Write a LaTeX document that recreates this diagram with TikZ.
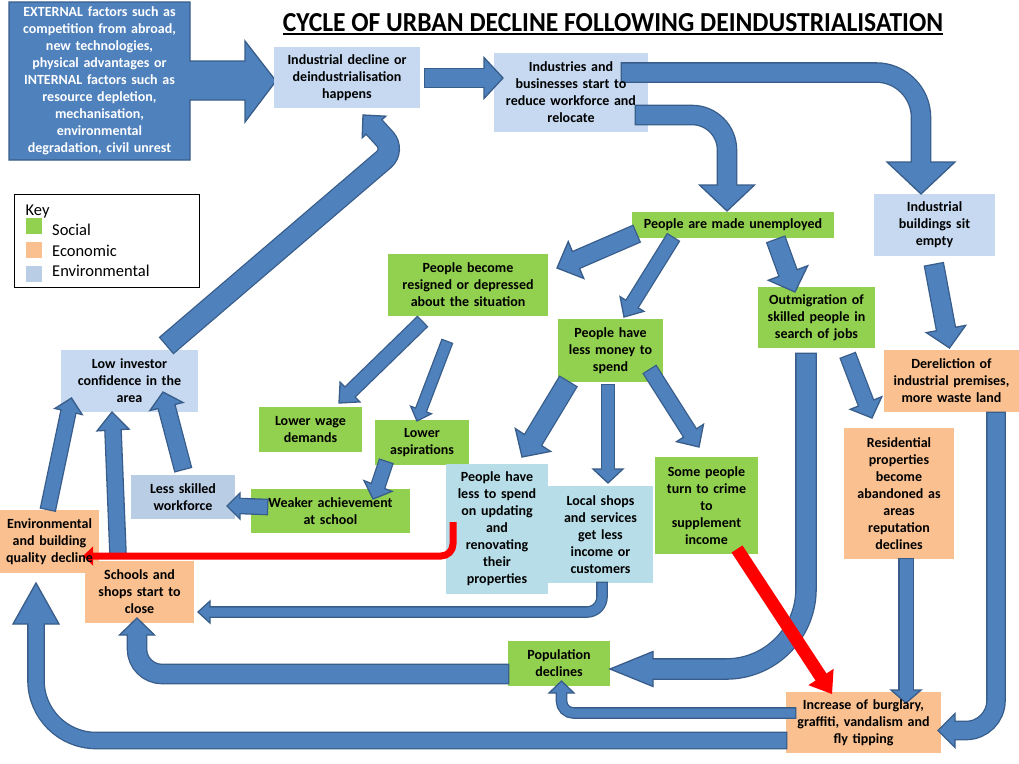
\documentclass[tikz,border=0pt]{standalone}
\usepackage{fontspec}
\setmainfont{Carlito}
\usepackage{graphicx}
\usetikzlibrary{calc}
\definecolor{arrowblue}{HTML}{4F81BD}
\definecolor{arrowline}{HTML}{385D8A}
\definecolor{socialgreen}{HTML}{92D050}
\definecolor{econorange}{HTML}{FAC090}
\definecolor{envblue}{HTML}{C6D9F1}
\definecolor{keyenv}{HTML}{B9CDE5}
\definecolor{aquablue}{HTML}{B7DEE8}
\pgfdeclarelayer{boxes}
\pgfdeclarelayer{arrows}
\pgfsetlayers{boxes,arrows,main}

% shaft width, head half width, shaft path, head base, tip
\newcommand{\blockarrow}[5]{%
  \draw[arrowline, line width=#1pt+2.6pt, shorten <=-1.3pt] #3;
  \filldraw[fill=arrowblue, draw=arrowline, line width=1.3pt] ($#4!#2pt!90:#5$) -- #5 -- ($#4!#2pt!-90:#5$) -- cycle;
  \draw[arrowblue, line width=#1pt, shorten >=-1.6pt] #3;
}
\newcommand{\redarrow}[5]{%
  \draw[red, line width=#1pt, shorten >=-1pt] #3;
  \fill[red] ($#4!#2pt!90:#5$) -- #5 -- ($#4!#2pt!-90:#5$) -- cycle;
}

\begin{document}
\begin{tikzpicture}[x=1pt, y=-1pt,
  box/.style={align=center, inner sep=0pt, font=\fontsize{14}{17}\selectfont\bfseries},
  wh/.style 2 args={minimum width=#1pt, minimum height=#2pt, text width=#1pt},
  keytext/.style={anchor=base west, inner sep=0pt, font=\fontsize{16.5}{20}\selectfont},
  swatch/.style={minimum size=16pt, inner sep=0pt}]
\useasboundingbox (0,0) rectangle (1019,763);

\node[inner sep=0pt, anchor=base] (title) at (613,31) {\resizebox{660pt}{18pt}{\bfseries CYCLE OF URBAN DECLINE FOLLOWING DEINDUSTRIALISATION}};
\draw[line width=2pt] ([yshift=-3.3pt]title.base west) -- ([yshift=-3.3pt]title.base east);

\node[box, wh={181}{158}, text=white] (ext) at (99.5,81) {EXTERNAL factors such as\\ competition from abroad,\\ new technologies,\\ physical advantages or\\ INTERNAL factors such as\\ resource depletion,\\ mechanisation,\\ environmental\\ degradation, civil unrest};
\node[box, wh={146}{61}] (decline) at (347,77.5) {Industrial decline or\\ deindustrialisation\\ happens};
\node[box, wh={154}{79}] (industries) at (571,92.5) {Industries and\\ businesses start to\\ reduce workforce and\\ relocate};
\node[box, wh={202}{26}] (unemp) at (733,225) {People are made unemployed};
\node[box, wh={121}{62}] (sitempty) at (934.5,225) {Industrial\\ buildings sit\\ empty};
\node[box, wh={160}{62}] (resigned) at (468,285) {People become\\ resigned or depressed\\ about the situation};
\node[box, wh={105}{63}] (money) at (610.5,350.5) {People have\\ less money to\\ spend};
\node[box, wh={117}{61}] (outmig) at (816.5,317.5) {Outmigration of\\ skilled people in\\ search of jobs};
\node[box, wh={135}{62}] (derel) at (951.5,381) {Dereliction of\\ industrial premises,\\ more waste land};
\node[box, wh={137}{62}] (lowinv) at (129.5,381) {Low investor\\ confidence in the\\ area};
\node[box, wh={103}{45}] (wage) at (310.5,429.5) {Lower wage\\ demands};
\node[box, wh={94}{45}] (aspir) at (422,442.5) {Lower\\ aspirations};
\node[box, wh={159}{44}] (weaker) at (330.5,511) {Weaker achievement\\ at school};
\node[box, wh={104}{44}] (lessskill) at (183,497) {Less skilled\\ workforce};
\node[box, wh={99}{63}] (envdecl) at (49.5,541.5) {Environmental\\ and building\\ quality decline};
\node[box, wh={109}{62}] (schools) at (139.5,592) {Schools and\\ shops start to\\ close};
\node[box, wh={105}{97}] (localshops) at (600.5,534.5) {Local shops\\ and services\\ get less\\ income or\\ customers};
\node[box, wh={102}{130}] (update) at (497,529) {People have\\ less to spend\\ on updating\\ and\\ renovating\\ their\\ properties};
\node[box, wh={103}{97}] (crime) at (706.5,505.5) {Some people\\ turn to crime\\ to\\ supplement\\ income};
\node[box, wh={110}{131}] (residential) at (899,493.5) {Residential\\ properties\\ become\\ abandoned as\\ areas\\ reputation\\ declines};
\node[box, wh={102}{45}] (pop) at (559,663.5) {Population\\ declines};
\node[box, wh={155}{61}] (burglary) at (863.5,722.5) {Increase of burglary,\\ graffiti, vandalism and\\ fly tipping};

\node[draw=black, line width=0.9pt, minimum width=185pt, minimum height=93pt, inner sep=0pt] (key) at (106.5,240.5) {};
\node[keytext] (keyhead) at (25.5,215) {Key};
\node[swatch, fill=socialgreen] (swsocial) at (34,226) {};
\node[swatch, fill=econorange] (swecon) at (34,250) {};
\node[swatch, fill=keyenv] (swenv) at (34,274) {};
\node[keytext] (keysocial) at (52,235) {Social};
\node[keytext] (keyecon) at (52,256) {Economic};
\node[keytext] (keyenv) at (52,276.5) {Environmental};

\begin{pgfonlayer}{boxes}
\fill[white] (0,0) rectangle (1019,763);
\filldraw[fill=arrowblue, draw=arrowline, line width=1.3pt] (9,2) -- (190,2) -- (190,61) -- (245,61) -- (245,41) -- (276,81) -- (245,122) -- (245,100) -- (190,100) -- (190,160) -- (9,160) -- cycle;
\foreach \n/\c in {decline/envblue, industries/envblue, sitempty/envblue, lowinv/envblue, lessskill/keyenv,
  unemp/socialgreen, resigned/socialgreen, money/socialgreen, outmig/socialgreen, wage/socialgreen,
  aspir/socialgreen, weaker/socialgreen, crime/socialgreen, pop/socialgreen,
  derel/econorange, residential/econorange, envdecl/econorange, schools/econorange, burglary/econorange,
  localshops/aquablue, update/aquablue}
  \fill[\c] (\n.south west) rectangle (\n.north east);
\end{pgfonlayer}

\begin{pgfonlayer}{arrows}
\blockarrow{18}{20.5}{(425,78) -- (484,78)}{(484,78)}{(503,78)}
\blockarrow{18}{34}{(622,72.5) [rounded corners=45pt] -- (921,72.5) -- (921,162)}{(921,162)}{(921,194)}
\blockarrow{18}{27.5}{(636,115) [rounded corners=35pt] -- (727,115) -- (727,185)}{(727,185)}{(727,211)}
\blockarrow{17}{20}{(636,234) -- (576,260)}{(576,260)}{(557,268)}
\blockarrow{13}{14}{(673,238) -- (632,304)}{(632,304)}{(624,317)}
\blockarrow{18}{21}{(776,240) -- (788,273)}{(788,273)}{(795,292)}
\blockarrow{18}{20}{(934,265) -- (946,329)}{(946,329)}{(949.5,348)}
\blockarrow{15}{17}{(848,356) -- (866,403)}{(866,403)}{(872,418)}
\blockarrow{19}{17.5}{(806,354) [rounded corners=80pt] -- (806,669) -- (653,669)}{(653,669)}{(610,669)}
\blockarrow{17}{17}{(996,413) [rounded corners=30pt] -- (996,730.5) -- (955,730.5)}{(955,730.5)}{(938,730.5)}
\blockarrow{13}{15}{(906,559) -- (906,690)}{(906,690)}{(906,703)}
\blockarrow{9}{12.5}{(795,713) [rounded corners=12pt] -- (561.5,713) -- (561.5,693)}{(561.5,693)}{(561.5,681)}
\blockarrow{15}{23}{(786,740.5) [rounded corners=60pt] -- (36,740.5) -- (36,624)}{(36,624)}{(36,583)}
\blockarrow{18}{17.5}{(508,674) [rounded corners=25pt] -- (137,674) -- (137,635)}{(137,635)}{(137,618)}
\blockarrow{9}{11}{(602,583) [rounded corners=15pt] -- (602,612) -- (210,612)}{(210,612)}{(198,612)}
\blockarrow{19}{21}{(568,382) -- (533,440)}{(533,440)}{(522,457)}
\blockarrow{12}{15}{(608,385) -- (608,469)}{(608,469)}{(608,483)}
\blockarrow{14}{16}{(650,370) -- (690,433)}{(690,433)}{(699,447)}
\blockarrow{13}{14}{(422,322) -- (350,392)}{(350,392)}{(339,403)}
\blockarrow{10}{11}{(447,342) -- (421,410)}{(421,410)}{(417,421)}
\blockarrow{13}{15}{(386,462) -- (378,486)}{(378,486)}{(373,499)}
\blockarrow{14}{13}{(267,507) -- (240,506)}{(240,506)}{(227,506)}
\blockarrow{16}{17}{(183,469) -- (166.5,406.5)}{(166.5,406.5)}{(163,392)}
\blockarrow{15}{16}{(118,554) -- (113,430)}{(113,430)}{(112,412)}
\blockarrow{14}{14}{(48,509) -- (68.5,411.5)}{(68.5,411.5)}{(71.5,398)}
\blockarrow{20}{16}{(167,345) [rounded corners=15pt] -- (395,150) -- (374,127)}{(374,127)}{(363,115)}
\redarrow{13}{15}{(737,549) -- (821,677)}{(821,677)}{(832,694)}
\redarrow{7}{9.5}{(453,522) [rounded corners=12pt] -- (453,556) -- (93,556)}{(93,556)}{(83,556)}
\end{pgfonlayer}
\end{tikzpicture}
\end{document}
